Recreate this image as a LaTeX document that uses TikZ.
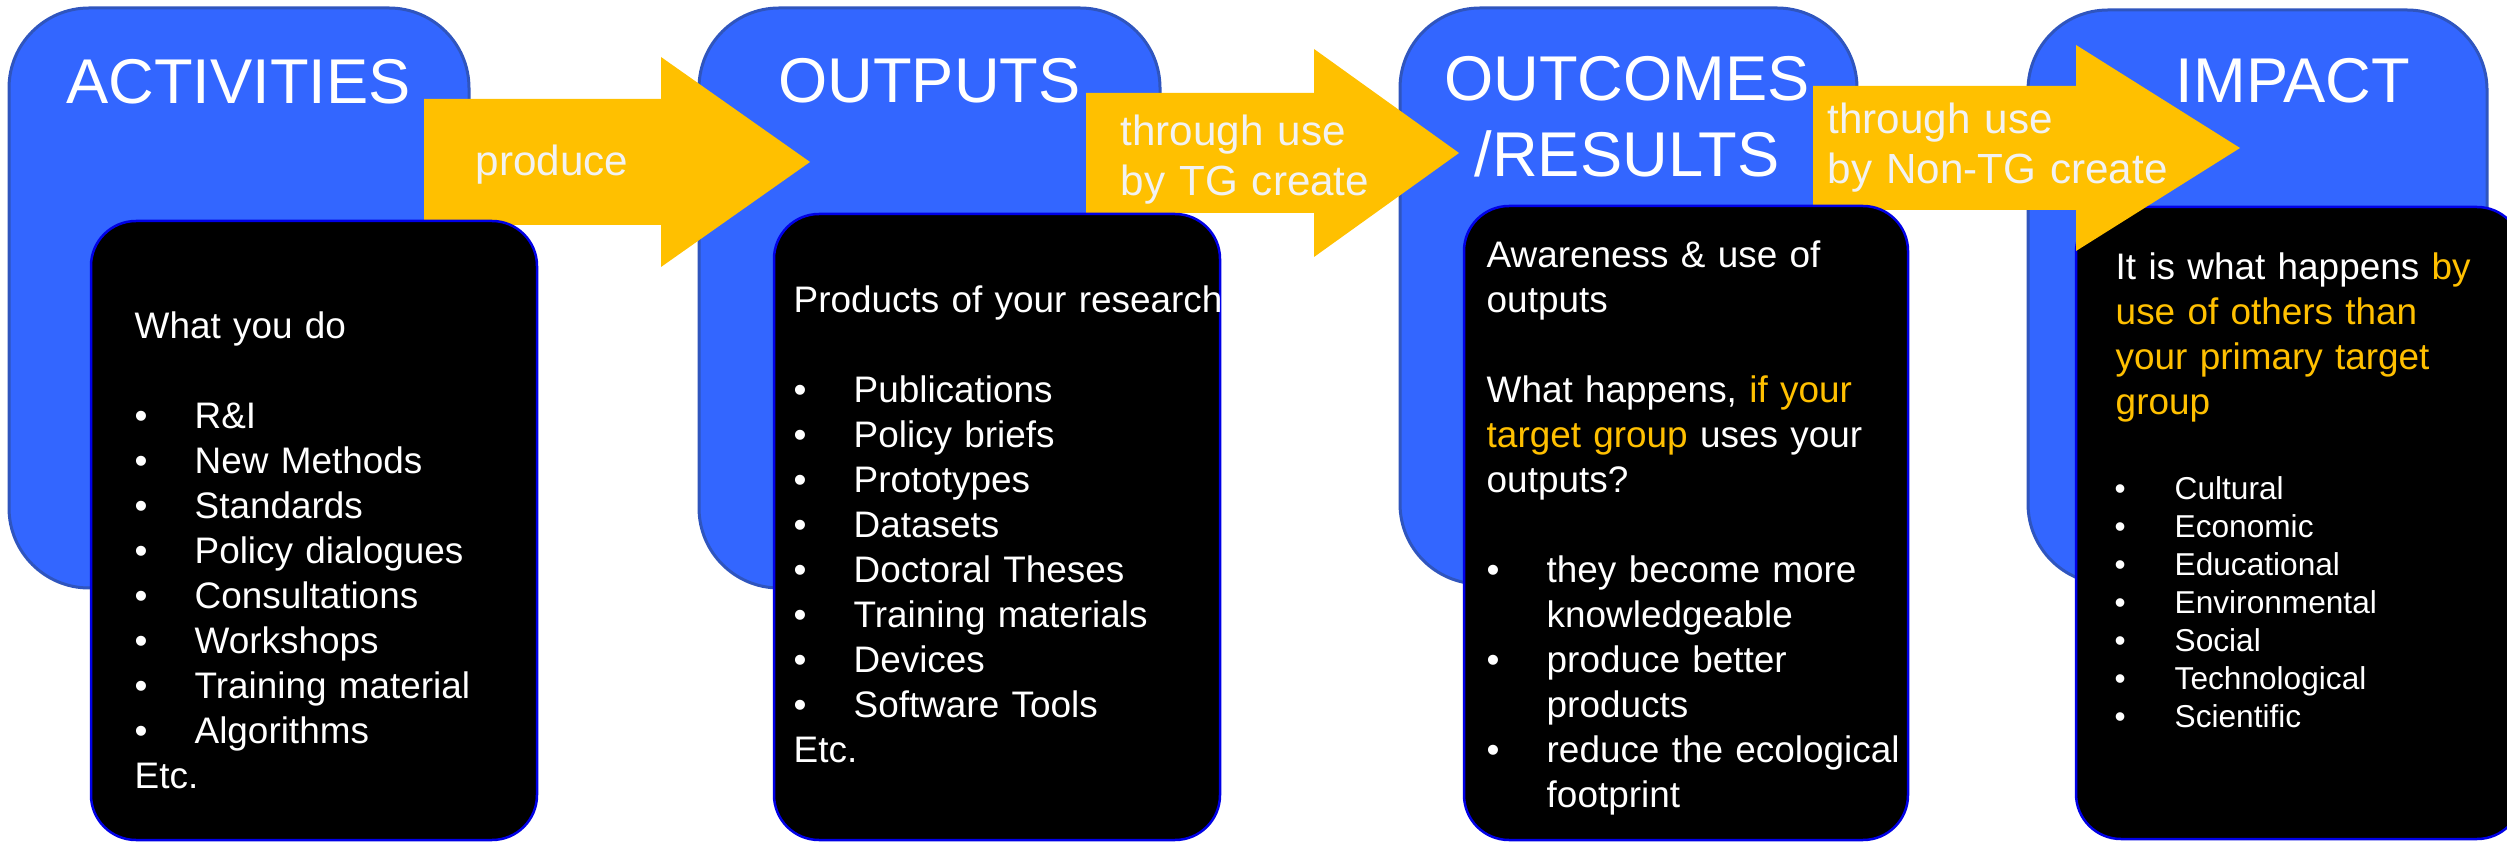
\documentclass[tikz,border=0pt]{standalone}
\usepackage{fontspec}
\setmainfont{Liberation Sans}
\usepackage{tikz}
\usetikzlibrary{calc}
\definecolor{boxblue}{RGB}{51,102,255}
\definecolor{boxblueline}{RGB}{47,85,190}
\definecolor{boxline}{RGB}{0,0,230}
\definecolor{arrowgold}{RGB}{255,192,0}
\definecolor{arrowtext}{RGB}{242,242,242}
\def\blockarrow(#1,#2)(#3,#4,#5)(#6){\fill[arrowgold] (#1,#2-#4) -- (#3,#2-#4) -- (#3,#2-#5) -- (#6,#2) -- (#3,#2+#5) -- (#3,#2+#4) -- (#1,#2+#4) -- cycle;}
\newcommand\bul[1]{\makebox[6mm][l]{\textbullet}#1}
\newcommand\ind{\hspace*{6mm}}
\newcommand\hl[1]{\textcolor{arrowgold}{#1}}

\begin{document}
\begin{tikzpicture}[x=0.1mm, y=-0.1mm,
	bluebox/.style={fill=boxblue, draw=boxblueline, line width=0.3mm, rounded corners=8mm},
	blackbox/.style={fill=black, draw=boxline, line width=0.25mm, rounded corners=4.5mm},
	title/.style={text=white, inner sep=0, font=\fontsize{18pt}{21.6pt}\selectfont},
	body/.style={text=white, inner sep=0, anchor=base west, align=left, font=\fontsize{10.5pt}{12.8pt}\selectfont},
	arrowlabel/.style={text=arrowtext, inner sep=0, anchor=base west, align=left, font=\fontsize{12pt}{14.2pt}\selectfont}]
			%%%%% START %%%%%
			\clip (0, 0) rectangle (2507, 843);
			
			\draw[bluebox] (9, 8) rectangle (469, 588);
			\draw[bluebox] (699, 8) rectangle (1160, 588);
			\draw[bluebox] (1400, 8) rectangle (1857, 584);
			\draw[bluebox] (2028, 10) rectangle (2487, 584);
			
			\draw[blackbox] (2076, 207) rectangle (2522, 839);
			
			\blockarrow(424,162)(661,63,105)(810)
			\blockarrow(1086,153)(1314,60,104)(1459)
			\blockarrow(1813,148)(2076,62,103)(2240)
			
			\draw[blackbox] (91, 221) rectangle (537, 840);
			\draw[blackbox] (774, 214) rectangle (1220, 840);
			\draw[blackbox] (1464, 206) rectangle (1908, 840);
			
			\node[title, anchor=base] (act) at (238.5, 104) {ACTIVITIES};
			\node[title, anchor=base] (out) at (929.5, 103) {OUTPUTS};
			\node[title, anchor=base, text width=60mm, align=center] (res) at (1627, 101) {OUTCOMES\\/RESULTS};
			\node[title, anchor=base] (imp) at (2293, 103) {IMPACT};
			
			\node[arrowlabel] (produce) at (475, 176) {produce};
			\node[arrowlabel, text width=40mm] (tgcreate) at (1120, 146) {through use\\by TG create};
			\node[arrowlabel, text width=45mm] (nontgcreate) at (1827, 134) {through use\\by Non-TG create};
			
			\node[body, text width=42mm] (actbody) at (134, 339) {What you do\\[4.5mm]
				\bul{R\&I}\\ \bul{New Methods}\\ \bul{Standards}\\ \bul{Policy dialogues}\\
				\bul{Consultations}\\ \bul{Workshops}\\ \bul{Training material}\\ \bul{Algorithms}\\
				Etc.};
			\node[body, text width=45mm] (outbody) at (793, 313) {Products of your research\\[4.5mm]
				\bul{Publications}\\ \bul{Policy briefs}\\ \bul{Prototypes}\\ \bul{Datasets}\\
				\bul{Doctoral Theses}\\ \bul{Training materials}\\ \bul{Devices}\\ \bul{Software Tools}\\
				Etc.};
			\node[body, text width=44mm] (resbody) at (1486, 268) {Awareness \& use of\\ outputs\\[4.5mm]
				What happens, \hl{if your}\\ \hl{target group} uses your\\ outputs?\\[4.5mm]
				\bul{they become more}\\ \ind knowledgeable\\ \bul{produce better}\\ \ind products\\
				\bul{reduce the ecological}\\ \ind footprint};
			\node[body, text width=40mm] (impbody) at (2115, 280) {It is what happens \hl{by}\\
				\hl{use of others than}\\ \hl{your primary target}\\ \hl{group}};
			\node[body, text width=38mm, font=\fontsize{9pt}{10.8pt}\selectfont] (implist) at (2114, 500) {\bul{Cultural}\\ \bul{Economic}\\
				\bul{Educational}\\ \bul{Environmental}\\ \bul{Social}\\ \bul{Technological}\\ \bul{Scientific}};
			
			%%%%% END %%%%%
		\end{tikzpicture}
\end{document}
